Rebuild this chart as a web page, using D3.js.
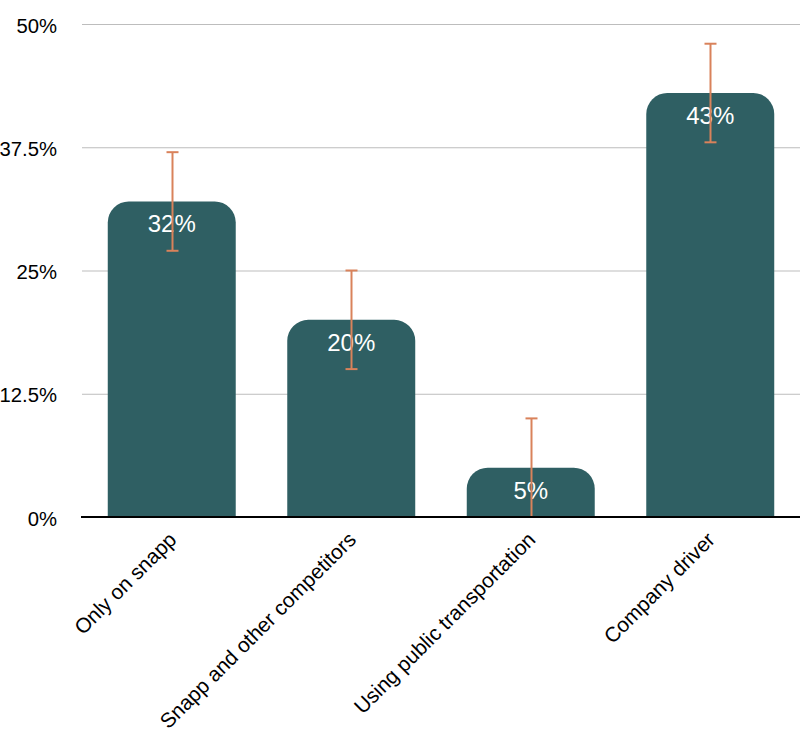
<!DOCTYPE html>
<html><head><meta charset="utf-8">
<script src="https://cdn.jsdelivr.net/npm/d3@7"></script>
<style>body{margin:0;background:#fff}svg{display:block}text{font-family:"Liberation Sans",Arial,Helvetica,sans-serif}</style>
</head><body>
<script>
const categories = ["Only on snapp","Snapp and other competitors","Using public transportation","Company driver"];
const values = [32,20,5,43];
const errLow = [5,5,5,5];
const errHigh = [5,5,5,5];
const yTicks = [0,12.5,25,37.5,50];
const yTickLabels = ["0%","12.5%","25%","37.5%","50%"];

const W=800,H=734;
const svg=d3.select("body").append("svg").attr("width",W).attr("height",H);
const x=d3.scaleBand().domain(categories).range([82,800]).paddingInner(0.287).paddingOuter(0.1435);
const y=d3.scaleLinear().domain([0,50]).range([517,24]);

// gridlines
svg.append("g").selectAll("line").data(yTicks.filter(d=>d>0)).join("line")
 .attr("x1",82).attr("x2",800).attr("y1",d=>y(d)+0.5).attr("y2",d=>y(d)+0.5)
 .attr("stroke","#bdbdbd").attr("stroke-width",1);

// y labels
svg.append("g").selectAll("text").data(yTicks).join("text")
 .attr("x",57).attr("y",d=>y(d)).attr("dy","0.42em").attr("text-anchor","end")
 .attr("font-size",20.3).attr("fill","#000").text((d,i)=>yTickLabels[i]);

// bars with rounded tops
const r=21;
function barPath(x0,w,yt,yb){
  const rr=Math.min(r,(yb-yt),w/2);
  return `M${x0},${yb}V${yt+rr}A${rr},${rr} 0 0 1 ${x0+rr},${yt}H${x0+w-rr}A${rr},${rr} 0 0 1 ${x0+w},${yt+rr}V${yb}Z`;
}
svg.append("g").selectAll("path").data(values).join("path")
 .attr("d",(d,i)=>barPath(x(categories[i]),x.bandwidth(),y(d),y(0)))
 .attr("fill","#2f5f63");

// value labels
svg.append("g").selectAll("text").data(values).join("text")
 .attr("x",(d,i)=>x(categories[i])+x.bandwidth()/2).attr("y",d=>y(d)+31)
 .attr("text-anchor","middle").attr("font-size",24).attr("fill","#fff").text(d=>d+"%");

// error bars
const eg=svg.append("g").attr("stroke","#d9825b").attr("stroke-width",2);
values.forEach((v,i)=>{
  const cx=Math.round(x(categories[i])+x.bandwidth()/2)+0.5;
  const yt=y(v+errHigh[i]), yb=y(v-errLow[i]);
  eg.append("line").attr("x1",cx).attr("x2",cx).attr("y1",yt).attr("y2",yb);
  eg.append("line").attr("x1",cx-6).attr("x2",cx+6).attr("y1",yt).attr("y2",yt);
  eg.append("line").attr("x1",cx-6).attr("x2",cx+6).attr("y1",yb).attr("y2",yb);
});

// baseline
svg.append("line").attr("x1",81).attr("x2",800).attr("y1",y(0)).attr("y2",y(0))
 .attr("stroke","#000").attr("stroke-width",2);

// category labels
svg.append("g").selectAll("text").data(categories).join("text")
 .attr("transform",d=>`translate(${x(d)+x.bandwidth()/2+6},541) rotate(-45)`)
 .attr("text-anchor","end").attr("font-size",20.8).attr("fill","#000").text(d=>d);
</script>
</body></html>
